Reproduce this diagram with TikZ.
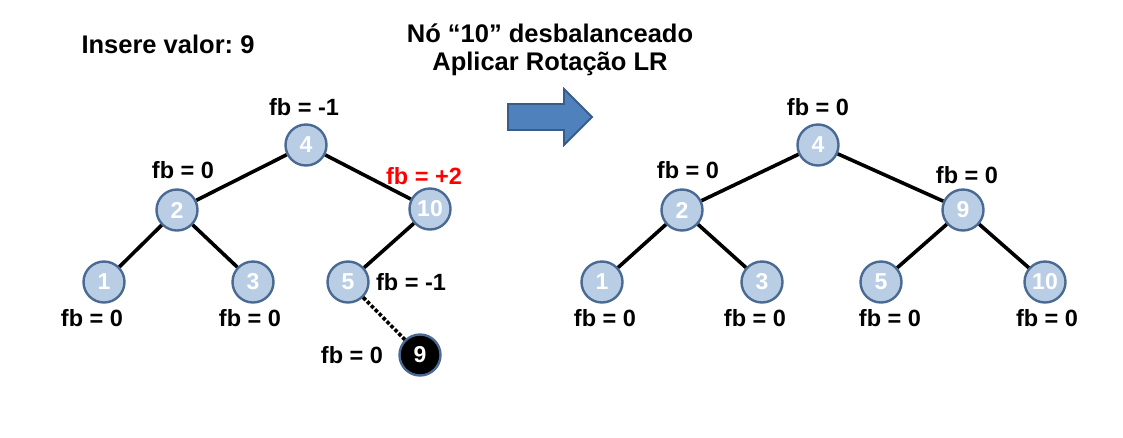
\documentclass[tikz,border=0pt]{standalone}
\usepackage{fontspec}
\setmainfont{Liberation Sans}
\frenchspacing
\begin{document}
\begin{tikzpicture}[x=1pt,y=-1pt,
  tnode/.style={circle,draw=nodeborder,line width=2.4pt,fill=nodefill,minimum size=41pt,inner sep=0pt,text=white,font=\fontsize{23}{23}\selectfont\bfseries},
  newnode/.style={tnode,fill=black},
  edge/.style={line width=3.6pt,black},
  lbl/.style={font=\fontsize{23.5}{25}\selectfont\bfseries,inner sep=0pt},
  head/.style={font=\fontsize{25.5}{31}\selectfont\bfseries,inner sep=0pt,align=center},
  ]
\definecolor{nodefill}{HTML}{B9CDE5}
\definecolor{nodeborder}{HTML}{4A6A93}
\definecolor{arrowfill}{HTML}{4F81BD}
\definecolor{arrowborder}{HTML}{385D8A}
\useasboundingbox (0,0) rectangle (1123,437);
% header
\node[head] (title) at (168,44) {Insere valor: 9};
\node[head] (msg1) at (550,33) {Nó “10” desbalanceado};
\node[head] (msg2) at (550,64) {Aplicar Rotação LR};
% arrow
\draw[fill=arrowfill,draw=arrowborder,line width=1.8pt]
  (508,104) -- (564,104) -- (564,89) -- (592,117) -- (564,145) -- (564,130) -- (508,130) -- cycle;
% left tree
\node[tnode] (L4) at (306,145) {4};
\node[tnode] (L2) at (177,210) {2};
\node[tnode] (L10) at (430,209) {10};
\node[tnode] (L1) at (104,282) {1};
\node[tnode] (L3) at (253,282) {3};
\node[tnode] (L5) at (348,282) {5};
\node[newnode] (L9) at (420,355) {9};
\draw[edge] (L4) -- (L2);
\draw[edge] (L4) -- (L10);
\draw[edge] (L2) -- (L1);
\draw[edge] (L2) -- (L3);
\draw[edge] (L10) -- (L5);
\draw[edge,dotted] (L5) -- (L9);
\node[lbl] (lf4) at (304,107) {fb = -1};
\node[lbl] (lf2) at (183,170) {fb = 0};
\node[lbl,text=red] (lf10) at (424,176) {fb = +2};
\node[lbl] (lf1) at (92,318) {fb = 0};
\node[lbl] (lf3) at (250,318) {fb = 0};
\node[lbl] (lf5) at (411,282) {fb = -1};
\node[lbl] (lf9) at (352,355) {fb = 0};
% right tree
\node[tnode] (R4) at (818,145) {4};
\node[tnode] (R2) at (682,210) {2};
\node[tnode] (R9) at (963,210) {9};
\node[tnode] (R1) at (602,282) {1};
\node[tnode] (R3) at (762,282) {3};
\node[tnode] (R5) at (881,282) {5};
\node[tnode] (R10) at (1045,282) {10};
\draw[edge] (R4) -- (R2);
\draw[edge] (R4) -- (R9);
\draw[edge] (R2) -- (R1);
\draw[edge] (R2) -- (R3);
\draw[edge] (R9) -- (R5);
\draw[edge] (R9) -- (R10);
\node[lbl] (rf4) at (818,107) {fb = 0};
\node[lbl] (rf2) at (688,170) {fb = 0};
\node[lbl] (rf9) at (967,175) {fb = 0};
\node[lbl] (rf1) at (605,318) {fb = 0};
\node[lbl] (rf3) at (755,318) {fb = 0};
\node[lbl] (rf5) at (890,318) {fb = 0};
\node[lbl] (rf10) at (1047,318) {fb = 0};
\end{tikzpicture}
\end{document}
